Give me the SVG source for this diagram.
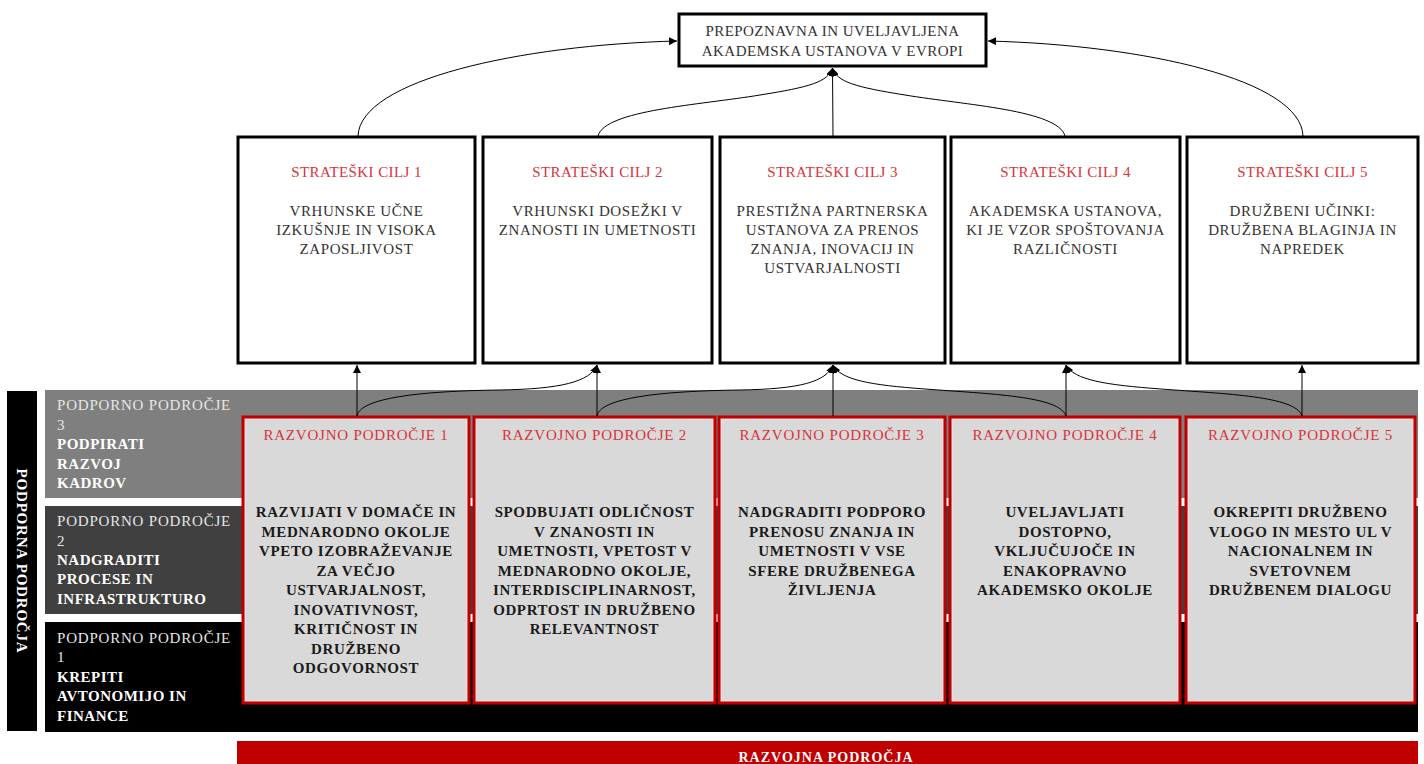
<svg xmlns="http://www.w3.org/2000/svg" width="1424" height="764" viewBox="0 0 1424 764">
<defs>
<marker id="ah" markerUnits="userSpaceOnUse" markerWidth="9" markerHeight="8" refX="8" refY="4" orient="auto">
<path d="M0,0 L8,4 L0,8 Z" fill="#000"/>
</marker>
<style>
text{font-family:"Liberation Serif","Times New Roman",serif;font-size:15px;text-anchor:middle}
.top{fill:#333;letter-spacing:0.45px}
.st{fill:#d8343a;letter-spacing:0.4px}
.sb{fill:#333;letter-spacing:0.6px}
.rt{fill:#d8343a;letter-spacing:0.8px}
.rb{fill:#1a1a1a;font-weight:bold;letter-spacing:0.6px}
.pl{fill:#e6e6e6;letter-spacing:0.8px;text-anchor:start}
.pb{fill:#fff;font-weight:bold;letter-spacing:0.5px;text-anchor:start}
.box{fill:#fff;stroke:#000;stroke-width:3}
.rbox{fill:#d9d9d9;stroke:#c00000;stroke-width:3}
.rin{fill:none;stroke:#f2dada;stroke-width:1}
.con{fill:none;stroke:#000;stroke-width:1}
</style>
</defs>

<g id="bands">
<rect x="45" y="390" width="1373" height="108" fill="#7f7f7f"/>
<rect x="45" y="506" width="1373" height="108" fill="#404040"/>
<rect x="45" y="622" width="1373" height="110" fill="#000"/>
</g>

<g id="podporna">
<rect x="7" y="391" width="30" height="340" fill="#000"/>
<text transform="translate(22,561) rotate(90)" y="5" style="fill:#fff;font-weight:bold;letter-spacing:0.8px">PODPORNA PODROČJA</text>
</g>

<g id="pp3">
<text class="pl" x="57" y="410">PODPORNO PODROČJE</text>
<text class="pl" x="57" y="430">3</text>
<text class="pb" x="57" y="449">PODPIRATI</text>
<text class="pb" x="57" y="469">RAZVOJ</text>
<text class="pb" x="57" y="488">KADROV</text>
</g>
<g id="pp2">
<text class="pl" x="57" y="526">PODPORNO PODROČJE</text>
<text class="pl" x="57" y="546">2</text>
<text class="pb" x="57" y="565">NADGRADITI</text>
<text class="pb" x="57" y="584">PROCESE IN</text>
<text class="pb" x="57" y="604">INFRASTRUKTURO</text>
</g>
<g id="pp1">
<text class="pl" x="57" y="643">PODPORNO PODROČJE</text>
<text class="pl" x="57" y="662">1</text>
<text class="pb" x="57" y="682">KREPITI</text>
<text class="pb" x="57" y="701">AVTONOMIJO IN</text>
<text class="pb" x="57" y="721">FINANCE</text>
</g>

<g id="razvojna">
<rect x="237" y="741" width="1181" height="30" fill="#c00000"/>
<text x="826" y="762" style="fill:#fff;font-weight:bold;font-size:14px;letter-spacing:1px">RAZVOJNA PODROČJA</text>
</g>

<g id="top">
<rect class="box" x="679" y="14" width="307" height="52"/>
<text class="top" x="832.5" y="36">PREPOZNAVNA IN UVELJAVLJENA</text>
<text class="top" x="832.5" y="56">AKADEMSKA USTANOVA V EVROPI</text>
</g>

<g id="sc1">
<rect class="box" x="238" y="137" width="237" height="226"/>
<text class="st" x="356.5" y="177">STRATEŠKI CILJ 1</text>
<text class="sb" x="356.5" y="216">VRHUNSKE UČNE</text>
<text class="sb" x="356.5" y="235">IZKUŠNJE IN VISOKA</text>
<text class="sb" x="356.5" y="254">ZAPOSLJIVOST</text>
</g>
<g id="sc2">
<rect class="box" x="483" y="137" width="229" height="226"/>
<text class="st" x="597.5" y="177">STRATEŠKI CILJ 2</text>
<text class="sb" x="597.5" y="216">VRHUNSKI DOSEŽKI V</text>
<text class="sb" x="597.5" y="235">ZNANOSTI IN UMETNOSTI</text>
</g>
<g id="sc3">
<rect class="box" x="720" y="137" width="225" height="226"/>
<text class="st" x="832.5" y="177">STRATEŠKI CILJ 3</text>
<text class="sb" x="832.5" y="216">PRESTIŽNA PARTNERSKA</text>
<text class="sb" x="832.5" y="235">USTANOVA ZA PRENOS</text>
<text class="sb" x="832.5" y="254">ZNANJA, INOVACIJ IN</text>
<text class="sb" x="832.5" y="273">USTVARJALNOSTI</text>
</g>
<g id="sc4">
<rect class="box" x="951" y="137" width="229" height="226"/>
<text class="st" x="1065.5" y="177">STRATEŠKI CILJ 4</text>
<text class="sb" x="1065.5" y="216">AKADEMSKA USTANOVA,</text>
<text class="sb" x="1065.5" y="235">KI JE VZOR SPOŠTOVANJA</text>
<text class="sb" x="1065.5" y="254">RAZLIČNOSTI</text>
</g>
<g id="sc5">
<rect class="box" x="1187" y="137" width="231" height="226"/>
<text class="st" x="1302.5" y="177">STRATEŠKI CILJ 5</text>
<text class="sb" x="1302.5" y="216">DRUŽBENI UČINKI:</text>
<text class="sb" x="1302.5" y="235">DRUŽBENA BLAGINJA IN</text>
<text class="sb" x="1302.5" y="254">NAPREDEK</text>
</g>

<g id="rp1">
<rect class="rbox" x="243" y="417" width="226" height="286"/>
<rect class="rin" x="245.5" y="419.5" width="221" height="281"/>
<text class="rt" x="356" y="440">RAZVOJNO PODROČJE 1</text>
<text class="rb" x="356" y="517">RAZVIJATI V DOMAČE IN</text>
<text class="rb" x="356" y="536.5">MEDNARODNO OKOLJE</text>
<text class="rb" x="356" y="556">VPETO IZOBRAŽEVANJE</text>
<text class="rb" x="356" y="575.5">ZA VEČJO</text>
<text class="rb" x="356" y="595">USTVARJALNOST,</text>
<text class="rb" x="356" y="614.5">INOVATIVNOST,</text>
<text class="rb" x="356" y="634">KRITIČNOST IN</text>
<text class="rb" x="356" y="653.5">DRUŽBENO</text>
<text class="rb" x="356" y="673">ODGOVORNOST</text>
</g>
<g id="rp2">
<rect class="rbox" x="474" y="417" width="241" height="286"/>
<rect class="rin" x="476.5" y="419.5" width="236" height="281"/>
<text class="rt" x="594.5" y="440">RAZVOJNO PODROČJE 2</text>
<text class="rb" x="594.5" y="517">SPODBUJATI ODLIČNOST</text>
<text class="rb" x="594.5" y="536.5">V ZNANOSTI IN</text>
<text class="rb" x="594.5" y="556">UMETNOSTI, VPETOST V</text>
<text class="rb" x="594.5" y="575.5">MEDNARODNO OKOLJE,</text>
<text class="rb" x="594.5" y="595">INTERDISCIPLINARNOST,</text>
<text class="rb" x="594.5" y="614.5">ODPRTOST IN DRUŽBENO</text>
<text class="rb" x="594.5" y="634">RELEVANTNOST</text>
</g>
<g id="rp3">
<rect class="rbox" x="719" y="417" width="226" height="286"/>
<rect class="rin" x="721.5" y="419.5" width="221" height="281"/>
<text class="rt" x="832" y="440">RAZVOJNO PODROČJE 3</text>
<text class="rb" x="832" y="517">NADGRADITI PODPORO</text>
<text class="rb" x="832" y="536.5">PRENOSU ZNANJA IN</text>
<text class="rb" x="832" y="556">UMETNOSTI V VSE</text>
<text class="rb" x="832" y="575.5">SFERE DRUŽBENEGA</text>
<text class="rb" x="832" y="595">ŽIVLJENJA</text>
</g>
<g id="rp4">
<rect class="rbox" x="950" y="417" width="230" height="286"/>
<rect class="rin" x="952.5" y="419.5" width="225" height="281"/>
<text class="rt" x="1065" y="440">RAZVOJNO PODROČJE 4</text>
<text class="rb" x="1065" y="517">UVELJAVLJATI</text>
<text class="rb" x="1065" y="536.5">DOSTOPNO,</text>
<text class="rb" x="1065" y="556">VKLJUČUJOČE IN</text>
<text class="rb" x="1065" y="575.5">ENAKOPRAVNO</text>
<text class="rb" x="1065" y="595">AKADEMSKO OKOLJE</text>
</g>
<g id="rp5">
<rect class="rbox" x="1186" y="417" width="229" height="286"/>
<rect class="rin" x="1188.5" y="419.5" width="224" height="281"/>
<text class="rt" x="1300.5" y="440">RAZVOJNO PODROČJE 5</text>
<text class="rb" x="1300.5" y="517">OKREPITI DRUŽBENO</text>
<text class="rb" x="1300.5" y="536.5">VLOGO IN MESTO UL V</text>
<text class="rb" x="1300.5" y="556">NACIONALNEM IN</text>
<text class="rb" x="1300.5" y="575.5">SVETOVNEM</text>
<text class="rb" x="1300.5" y="595">DRUŽBENEM DIALOGU</text>
</g>

<g id="connectors">
<path class="con" marker-end="url(#ah)" d="M358,136 C360,80 520,45 677,41"/>
<path class="con" marker-end="url(#ah)" d="M1303,136 C1301,80 1145,45 988,41"/>
<path class="con" marker-end="url(#ah)" d="M598,136 C605,110 700,105 760,95 C810,87 828,82 832.5,68"/>
<path class="con" marker-end="url(#ah)" d="M833,136 L832.5,68"/>
<path class="con" marker-end="url(#ah)" d="M1065,136 C1058,110 965,105 905,95 C855,87 837,82 832.5,68"/>

<path class="con" marker-end="url(#ah)" d="M357,416 L357,365"/>
<path class="con" marker-end="url(#ah)" d="M597,416 L597,365"/>
<path class="con" marker-end="url(#ah)" d="M833,416 L833,365"/>
<path class="con" marker-end="url(#ah)" d="M1066,416 L1066,365"/>
<path class="con" marker-end="url(#ah)" d="M1302,416 L1302,365"/>

<path class="con" marker-end="url(#ah)" d="M357,416 C360,398 420,391 500,390 C560,389 590,382 597,365"/>
<path class="con" marker-end="url(#ah)" d="M597,416 C600,398 660,391 740,390 C800,389 826,382 833,365"/>
<path class="con" marker-end="url(#ah)" d="M1066,416 C1060,396 990,394 925,389 C870,385 841,380 833,365"/>
<path class="con" marker-end="url(#ah)" d="M1302,416 C1296,396 1226,394 1161,389 C1106,385 1074,380 1066,365"/>
</g>
</svg>
